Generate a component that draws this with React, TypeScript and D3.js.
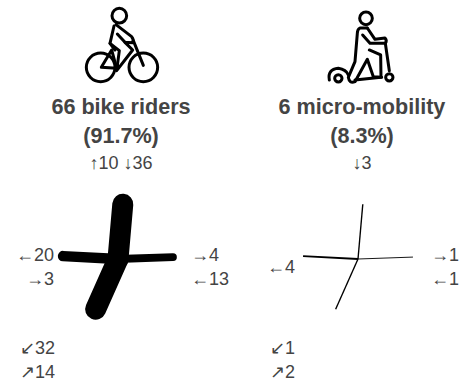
import React from "react";
import * as d3 from "d3";

const modeTitles = ["66 bike riders", "6 micro-mobility"];
const modeShares = ["(91.7%)", "(8.3%)"];
const modeTotals = ["↑10 ↓36", "↓3"];
const armBearings = [5, 88, 273, 204];
const bikeArms = [46, 17, 23, 46];
const microArms = [3, 2, 4, 3];
const bikeLabels = [["←20", "→3"], ["→4", "←13"], ["↙32", "↗14"]];
const microLabels = [["←4"], ["→1", "←1"], ["↙1", "↗2"]];

const INK = "#444";
const FONT = "'Liberation Sans', Arial, sans-serif";
const widthScale = d3.scaleLinear().domain([0, 46]).range([0, 21]);
const radius = d3.scaleLinear().domain([0, 1]).range([0, 55]);

function Flow({ cx, cy, values }: { cx: number; cy: number; values: number[] }) {
  const line = d3.line();
  return (
    <g>
      {values.map((v, i) => {
        const a = (armBearings[i] * Math.PI) / 180;
        const r = radius(1);
        const d = line([[cx, cy], [cx + r * Math.sin(a), cy - r * Math.cos(a)]]) as string;
        const w = widthScale(v);
        return <path key={i} d={d} stroke="#000" strokeWidth={w} strokeLinecap={w > 4 ? "round" : "butt"} fill="none" />;
      })}
    </g>
  );
}

function Bike() {
  return (
    <g transform="translate(60,0) scale(0.3333)" fill="none" stroke="#000" strokeWidth={9} strokeLinecap="round" strokeLinejoin="round">
      <circle cx={178} cy={47} r={22} />
      <circle cx={122} cy={202} r={43} />
      <circle cx={250} cy={202} r={43} />
      <path d="M168 74 L215 110 Q222 118 218 128 L195 127 L172 102" />
      <path d="M162 78 L150 130 L178 152 L170 212 L218 150 L195 127" />
      <path d="M124 202 L155 150 L170 205 Z" />
      <path d="M220 122 L250 196" />
      <path d="M150 130 L165 150" />
    </g>
  );
}

function Scooter() {
  return (
    <g transform="translate(310,0) scale(0.3333)" fill="none" stroke="#000" strokeWidth={9} strokeLinecap="round" strokeLinejoin="round">
      <circle cx={168} cy={55} r={19} />
      <path d="M172 84 L150 84 Q142 88 142 100 L135 185 L115 232 Q118 252 135 245 L172 178 L190 230 L215 232" />
      <path d="M172 84 L195 118 L225 114 Q232 122 226 130 L180 130 L158 105" />
      <path d="M226 130 L238 212" />
      <path d="M178 150 L212 165 L213 232 L135 240" />
      <circle cx={238} cy={232} r={11} />
      <circle cx={85} cy={235} r={11} />
      <path d="M58 240 Q52 208 85 205 Q108 208 115 225" />
    </g>
  );
}

function T({ x, y, size, anchor = "start", bold, children }: any) {
  return (
    <text x={x} y={y} fontSize={size} textAnchor={anchor} fontWeight={bold ? "bold" : "normal"} fill={INK} fontFamily={FONT}>
      {children}
    </text>
  );
}

export default function App() {
  return (
    <svg width={470} height={380} style={{ position: "absolute", left: 0, top: 0 }}>
      <Bike />
      <Scooter />
      {modeTitles.map((t, i) => {
        const x = i === 0 ? 121 : 362;
        return (
          <g key={t}>
            <T x={x} y={114} size={21.6} anchor="middle" bold>{t}</T>
            <T x={x} y={143} size={21.6} anchor="middle" bold>{modeShares[i]}</T>
            <T x={x} y={169} size={18} anchor="middle">{modeTotals[i]}</T>
          </g>
        );
      })}
      <Flow cx={118} cy={259} values={bikeArms} />
      <Flow cx={358} cy={259} values={microArms} />

      <T x={54} y={261} size={18} anchor="end">{bikeLabels[0][0]}</T>
      <T x={54} y={285} size={18} anchor="end">{bikeLabels[0][1]}</T>
      <T x={191} y={261} size={18}>{bikeLabels[1][0]}</T>
      <T x={191} y={285} size={18}>{bikeLabels[1][1]}</T>
      <T x={20} y={354} size={18}>{bikeLabels[2][0]}</T>
      <T x={20} y={378} size={18}>{bikeLabels[2][1]}</T>

      <T x={295} y={273} size={18} anchor="end">{microLabels[0][0]}</T>
      <T x={431} y={261} size={18}>{microLabels[1][0]}</T>
      <T x={431} y={285} size={18}>{microLabels[1][1]}</T>
      <T x={270} y={354} size={18}>{microLabels[2][0]}</T>
      <T x={270} y={378} size={18}>{microLabels[2][1]}</T>
    </svg>
  );
}
